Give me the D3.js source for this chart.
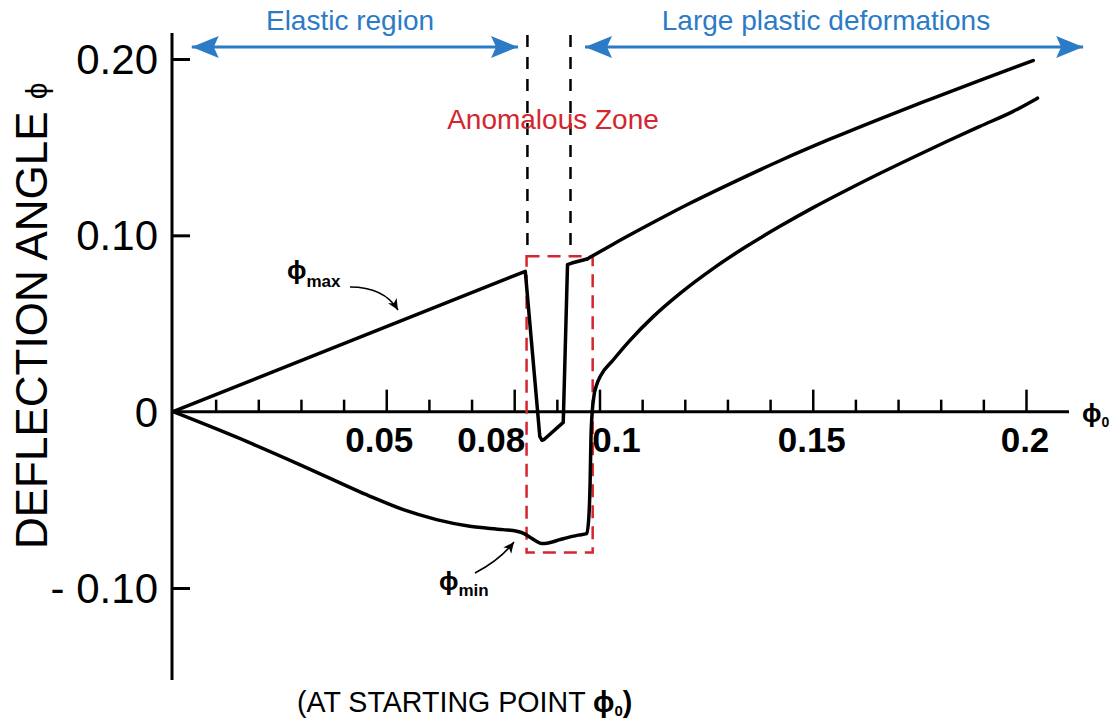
<!DOCTYPE html>
<meta charset="utf-8">
<title>Deflection angle vs starting point</title>
<script src="https://d3js.org/d3.v7.min.js"></script>

<style>
  body {
    margin: 0;
    background-color: #fff;
  }

  text {
    font-family: "Liberation Sans", Arial, sans-serif;
  }

  .curve {
    fill: none;
    stroke: #000;
    stroke-width: 3.5px;
    stroke-linejoin: round;
    stroke-linecap: round;
  }
</style>

<body>
  <svg width="1114" height="727"></svg>
</body>

<script>

  // phi_max branch [phi0, phi] ; elastic part + anomalous dip
  var phiMaxPoints = [
    [0, 0], [0.0826, 0.0796], [0.0860, -0.0140], [0.0865, -0.0162], [0.0870, -0.0158],
    [0.0915, -0.0061], [0.0925, 0.0834], [0.0935, 0.0843], [0.0971, 0.0866]
  ];

  // phi_max after the anomalous zone
  var phiMaxPlastic = [
    [0.0971, 0.0866], [0.1032, 0.0950], [0.1111, 0.1054], [0.1204, 0.1172],
    [0.1306, 0.1292], [0.1423, 0.1423], [0.1540, 0.1545], [0.1658, 0.1661],
    [0.1775, 0.1771], [0.1892, 0.1879], [0.2017, 0.1991]
  ];

  // phi_min branch [phi0, phi]
  var phiMinPoints = [
    [0, 0], [0.0149, -0.0145], [0.0306, -0.0310], [0.0462, -0.0480], [0.0540, -0.0556],
    [0.0618, -0.0612], [0.0696, -0.0650], [0.0774, -0.0669], [0.0806, -0.0678],
    [0.0822, -0.0690], [0.0837, -0.0712], [0.0852, -0.0735], [0.0864, -0.0748],
    [0.0880, -0.0745], [0.0907, -0.0726], [0.0950, -0.0700], [0.0970, -0.0692],
    [0.0975, -0.0600], [0.0978, -0.0400], [0.0980, -0.0150], [0.0983, 0.0000],
    [0.0987, 0.0090], [0.0993, 0.0150], [0.1003, 0.0205], [0.1032, 0.0293],
    [0.1072, 0.0406], [0.1126, 0.0539], [0.1189, 0.0671], [0.1267, 0.0813],
    [0.1345, 0.0938], [0.1423, 0.1051], [0.1501, 0.1157], [0.1580, 0.1257],
    [0.1658, 0.1352], [0.1736, 0.1443], [0.1814, 0.1532], [0.1892, 0.1618],
    [0.1970, 0.1703], [0.2027, 0.1778]
  ];

  var xTickValues = d3.range(1, 21).map(function (i) { return i / 100; });
  var xMajorTicks = [0.05, 0.08, 0.1, 0.15, 0.2];
  var xTickLabels = ["0.05", "0.08", "0.1", "0.15", "0.2"];

  var yTickValues = [0.2, 0.1, 0, -0.1];
  var yTickLabels = ["0.20", "0.10", "0", "- 0.10"];

  var regionNames = ["Elastic region", "Large plastic deformations"];
  var regionFrom = [0.0044, 0.0966];
  var regionTo = [0.0809, 0.2134];

  var anomalyLines = [0.0831, 0.0932];
  var anomalyBox = { x0: 0.0829, x1: 0.0984, y0: -0.0798, y1: 0.0881 };

  var PHI = "\u03D5";

  var svg = d3.select("svg"),
    blue = "#2B7BC6",
    red = "#D3262E";

  var x = d3.scaleLinear().domain([0, 0.2]).range([173, 1026]);
  var y = d3.scaleLinear().domain([-0.1, 0.2]).range([588, 59]);

  var defs = svg.append("defs");
  defs.append("marker")
    .attr("id", "blueHead")
    .attr("viewBox", "-28 -12 30 24")
    .attr("markerUnits", "userSpaceOnUse")
    .attr("markerWidth", 30).attr("markerHeight", 24)
    .attr("refX", 0).attr("refY", 0)
    .attr("orient", "auto-start-reverse")
    .append("path")
    .attr("d", "M0,0 L-27,-11 L-22,0 L-27,11 Z")
    .attr("fill", blue);

  defs.append("marker")
    .attr("id", "blackHead")
    .attr("viewBox", "-12 -6 13 12")
    .attr("markerUnits", "userSpaceOnUse")
    .attr("markerWidth", 13).attr("markerHeight", 12)
    .attr("refX", 0).attr("refY", 0)
    .attr("orient", "auto")
    .append("path")
    .attr("d", "M0,0 L-11,-5 L-8,0 L-11,5 Z")
    .attr("fill", "#000");

  // axes
  svg.append("line")
    .attr("x1", x(0) - 1).attr("x2", x(0) - 1)
    .attr("y1", 33).attr("y2", 680)
    .attr("stroke", "#000").attr("stroke-width", 3);

  svg.append("line")
    .attr("x1", x(0) - 1).attr("x2", 1069)
    .attr("y1", y(0)).attr("y2", y(0))
    .attr("stroke", "#000").attr("stroke-width", 3);

  var xAxis = svg.append("g")
    .attr("transform", "translate(0," + y(0) + ")")
    .call(d3.axisTop(x).tickValues(xTickValues).tickSizeInner(12).tickSizeOuter(0).tickFormat(""));
  xAxis.select(".domain").remove();
  xAxis.selectAll(".tick line")
    .attr("stroke-width", 2.5)
    .attr("y2", function (d) { return xMajorTicks.some(function (m) { return Math.abs(m - d) < 1e-9; }) ? -22 : -12; });

  var xLabelShift = [-7, -23, 17, -1, -1];
  svg.selectAll(".xlab")
    .data(xMajorTicks)
    .enter().append("text")
    .attr("class", "xlab")
    .attr("x", function (d, i) { return x(d) + xLabelShift[i]; })
    .attr("y", 452)
    .attr("text-anchor", "middle")
    .attr("font-size", 35)
    .attr("font-weight", "bold")
    .text(function (d, i) { return xTickLabels[i]; });

  var yAxis = svg.append("g")
    .attr("transform", "translate(" + (x(0) - 1) + ",0)")
    .call(d3.axisRight(y).tickValues(yTickValues.filter(function (d) { return d !== 0; }))
      .tickSizeInner(18).tickSizeOuter(0).tickFormat(""));
  yAxis.select(".domain").remove();
  yAxis.selectAll(".tick line").attr("stroke-width", 3);

  svg.selectAll(".ylab")
    .data(yTickValues)
    .enter().append("text")
    .attr("class", "ylab")
    .attr("x", 158)
    .attr("y", function (d) { return y(d) + 15; })
    .attr("text-anchor", "end")
    .attr("font-size", 42)
    .text(function (d, i) { return yTickLabels[i]; });

  // axis titles
  var yTitle = svg.append("text")
    .attr("transform", "translate(47,549) rotate(-90)")
    .attr("font-size", 44);
  yTitle.append("tspan").text("DEFLECTION ANGLE");
  yTitle.append("tspan").attr("dx", 12).attr("font-size", 30).text(PHI);

  var x0Title = svg.append("text")
    .attr("x", 1082).attr("y", 422)
    .attr("font-size", 26).attr("font-weight", "bold");
  x0Title.append("tspan").text(PHI);
  x0Title.append("tspan").attr("dy", 5).attr("font-size", 14).text("0");

  var bottomTitle = svg.append("text")
    .attr("x", 297).attr("y", 712)
    .attr("font-size", 28.6);
  bottomTitle.append("tspan").text("(AT STARTING POINT ");
  bottomTitle.append("tspan").attr("font-weight", "bold").text(PHI);
  bottomTitle.append("tspan").attr("font-weight", "bold").attr("font-size", 15).attr("dy", 4).text("0");
  bottomTitle.append("tspan").attr("font-weight", "bold").attr("dy", -4).text(")");

  // region arrows
  svg.selectAll(".region")
    .data(regionNames)
    .enter().append("line")
    .attr("x1", function (d, i) { return x(regionFrom[i]); })
    .attr("x2", function (d, i) { return x(regionTo[i]); })
    .attr("y1", 47).attr("y2", 47)
    .attr("stroke", blue).attr("stroke-width", 3)
    .attr("marker-start", "url(#blueHead)")
    .attr("marker-end", "url(#blueHead)");

  svg.selectAll(".regionLabel")
    .data(regionNames)
    .enter().append("text")
    .attr("x", function (d, i) { return i === 0 ? 350 : 826; })
    .attr("y", 30)
    .attr("text-anchor", "middle")
    .attr("font-size", 28)
    .attr("fill", blue)
    .text(function (d) { return d; });

  // anomalous zone
  svg.selectAll(".anomLine")
    .data(anomalyLines)
    .enter().append("line")
    .attr("x1", function (d) { return x(d); })
    .attr("x2", function (d) { return x(d); })
    .attr("y1", 35).attr("y2", y(anomalyBox.y1))
    .attr("stroke", "#000").attr("stroke-width", 2.5)
    .attr("stroke-dasharray", "12,10");

  svg.append("rect")
    .attr("x", x(anomalyBox.x0))
    .attr("y", y(anomalyBox.y1))
    .attr("width", x(anomalyBox.x1) - x(anomalyBox.x0))
    .attr("height", y(anomalyBox.y0) - y(anomalyBox.y1))
    .attr("fill", "none")
    .attr("stroke", red).attr("stroke-width", 2.5)
    .attr("stroke-dasharray", "13,8");

  svg.append("text")
    .attr("x", 553).attr("y", 129)
    .attr("text-anchor", "middle")
    .attr("font-size", 28)
    .attr("fill", red)
    .text("Anomalous Zone");

  // curves
  var lineStraight = d3.line()
    .x(function (d) { return x(d[0]); })
    .y(function (d) { return y(d[1]); });

  var lineSmooth = d3.line()
    .curve(d3.curveMonotoneX)
    .x(function (d) { return x(d[0]); })
    .y(function (d) { return y(d[1]); });

  svg.append("path").attr("class", "curve").attr("d", lineStraight(phiMaxPoints));
  svg.append("path").attr("class", "curve").attr("d", lineSmooth(phiMaxPlastic));
  svg.append("path").attr("class", "curve").attr("d", lineSmooth(phiMinPoints));

  // curve labels
  var maxLabel = svg.append("text")
    .attr("x", 287).attr("y", 279)
    .attr("font-size", 26).attr("font-weight", "bold");
  maxLabel.append("tspan").text(PHI);
  maxLabel.append("tspan").attr("dy", 8).attr("font-size", 17).text("max");

  svg.append("path")
    .attr("d", "M350,287 Q384,287 398,310")
    .attr("fill", "none").attr("stroke", "#000").attr("stroke-width", 1.6)
    .attr("marker-end", "url(#blackHead)");

  var minLabel = svg.append("text")
    .attr("x", 439).attr("y", 590)
    .attr("font-size", 26).attr("font-weight", "bold");
  minLabel.append("tspan").text(PHI);
  minLabel.append("tspan").attr("dy", 6).attr("font-size", 17).text("min");

  svg.append("path")
    .attr("d", "M475,573 Q500,560 514,542")
    .attr("fill", "none").attr("stroke", "#000").attr("stroke-width", 1.6)
    .attr("marker-end", "url(#blackHead)");

</script>
